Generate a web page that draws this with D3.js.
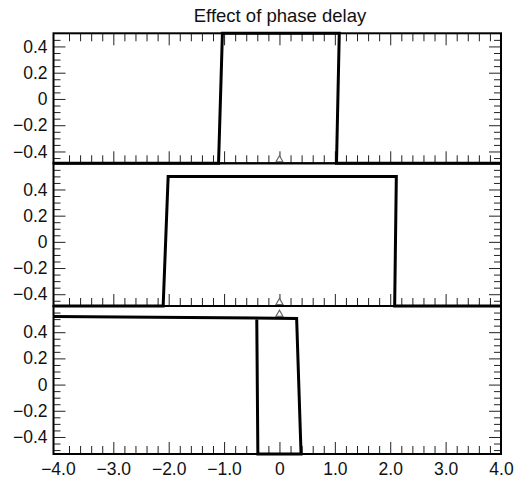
<!DOCTYPE html>
<meta charset="utf-8">
<script src="https://d3js.org/d3.v7.min.js"></script>
<style>
body {margin: 0; background: #fff;}
text {font-family: "Liberation Sans", Arial, Helvetica, sans-serif; fill: #111;}
.frame {fill: none; stroke: #000; stroke-width: 2;}
.pulse {fill: none; stroke: #000; stroke-width: 3; stroke-linejoin: miter;}
.tick line {stroke: #222;}
.marker {fill: #fff; stroke: #666; stroke-width: 1.2;}
</style>
<div id="vis"></div>
<script>
// tick values and labels
var xTickValues = [-4, -3, -2, -1, 0, 1, 2, 3, 4];
var xTickLabels = ["\u22124.0", "\u22123.0", "\u22122.0", "\u22121.0", "0", "1.0", "2.0", "3.0", "4.0"];
var yTickValues = [-0.4, -0.2, 0, 0.2, 0.4];
var yTickLabels = ["\u22120.4", "\u22120.2", "0", "0.2", "0.4"];

// y range shown in each panel
var yDomains = [[-0.49, 0.5], [-0.49, 0.6], [-0.53, 0.6]];

// pulse outlines, [x, y]
var pulseTop = [[-4.08, -0.49], [-1.10, -0.49], [-1.03, 0.5], [1.08, 0.5], [1.03, -0.49], [4, -0.49]];
var pulseMiddle = [[-4.08, -0.49], [-2.10, -0.49], [-2.01, 0.5], [2.11, 0.5], [2.08, -0.49], [4, -0.49]];
var pulseBottom = [[-4.08, 0.52], [0.31, 0.505], [0.39, -0.53], [-0.39, -0.53], [-0.41, 0.51]];

// centre markers (x = 0) per panel
var markerX = [0, 0, 0];
var markerY = [-0.49, -0.49, 0.51];

var pulses = [pulseTop, pulseMiddle, pulseBottom];

var width = 516,
    height = 478,
    left = 53.5,
    right = 501,
    edges = [33.3, 163.3, 306, 454];

var svg = d3.select("#vis")
    .append("svg")
    .attr("width", width)
    .attr("height", height);

var x = d3.scaleLinear().domain([-4.08, 4]).range([left, right]);

var xMinor = x.ticks(40).filter(function(d) {
  return Math.abs(d - Math.round(d)) > 1e-6 && d > -4 && d < 4;
});
var xMajorInner = xTickValues.filter(function(d) { return d > -4 && d < 4; });

var line = d3.line();

pulses.forEach(function(data, i) {
  var top = edges[i], bottom = edges[i + 1];
  var y = d3.scaleLinear().domain(yDomains[i]).range([bottom, top]);
  var g = svg.append("g");

  var yMinor = y.ticks(20).filter(function(d) {
    return d > yDomains[i][0] && d < yDomains[i][1] &&
      yTickValues.indexOf(Math.round(d * 100) / 100) < 0;
  });

  // left axis: labels + inward ticks
  g.append("g")
      .attr("transform", "translate(" + left + ",0)")
      .call(d3.axisLeft(y).tickValues(yTickValues).tickSize(-12).tickPadding(6)
        .tickFormat(function(d, k) { return yTickLabels[k]; }))
      .call(function(a) { a.select(".domain").remove(); })
      .selectAll("text").style("font-size", "17.5px");
  g.append("g")
      .attr("transform", "translate(" + left + ",0)")
      .call(d3.axisLeft(y).tickValues(yMinor).tickSize(-7).tickFormat(""))
      .call(function(a) { a.select(".domain").remove(); });

  // right axis ticks
  g.append("g")
      .attr("transform", "translate(" + right + ",0)")
      .call(d3.axisRight(y).tickValues(yTickValues).tickSize(-12).tickFormat(""))
      .call(function(a) { a.select(".domain").remove(); });
  g.append("g")
      .attr("transform", "translate(" + right + ",0)")
      .call(d3.axisRight(y).tickValues(yMinor).tickSize(-7).tickFormat(""))
      .call(function(a) { a.select(".domain").remove(); });

  // bottom ticks of each panel, labels on the last one
  var bottomAxis = g.append("g")
      .attr("transform", "translate(0," + bottom + ")")
      .call(d3.axisBottom(x).tickValues(i == 2 ? xTickValues : xMajorInner).tickSize(-12).tickPadding(9)
        .tickFormat(function(d) { return i == 2 ? xTickLabels[xTickValues.indexOf(d)] : ""; }))
      .call(function(a) { a.select(".domain").remove(); });
  bottomAxis.selectAll("text").style("font-size", "17.5px");
  bottomAxis.selectAll(".tick").filter(function(d) { return d <= -4 || d >= 4; })
      .select("line").remove();
  g.append("g")
      .attr("transform", "translate(0," + bottom + ")")
      .call(d3.axisBottom(x).tickValues(xMinor).tickSize(-8).tickFormat(""))
      .call(function(a) { a.select(".domain").remove(); });

  // top ticks only on first panel
  if (i == 0) {
    g.append("g")
        .attr("transform", "translate(0," + top + ")")
        .call(d3.axisTop(x).tickValues(xMajorInner).tickSize(-12).tickFormat(""))
        .call(function(a) { a.select(".domain").remove(); });
    g.append("g")
        .attr("transform", "translate(0," + top + ")")
        .call(d3.axisTop(x).tickValues(xMinor).tickSize(-8).tickFormat(""))
        .call(function(a) { a.select(".domain").remove(); });
  }

  // frame
  g.append("rect")
      .attr("class", "frame")
      .attr("x", left)
      .attr("y", top)
      .attr("width", right - left)
      .attr("height", bottom - top);

  // pulse
  g.append("path")
      .attr("class", "pulse")
      .attr("d", line(data.map(function(p) { return [x(p[0]), y(p[1])]; })));

  // marker triangle
  var mx = x(markerX[i]), my = y(markerY[i]);
  g.append("path")
      .attr("class", "marker")
      .attr("d", "M" + (mx - 3.5) + "," + (my - 1.5) + "L" + mx + "," + (my - 7.5) + "L" + (mx + 3.5) + "," + (my - 1.5) + "Z");
});

// title
svg.append("text")
    .attr("x", 280)
    .attr("y", 21.7)
    .attr("text-anchor", "middle")
    .style("font-size", "18.5px")
    .text("Effect of phase delay");
</script>
